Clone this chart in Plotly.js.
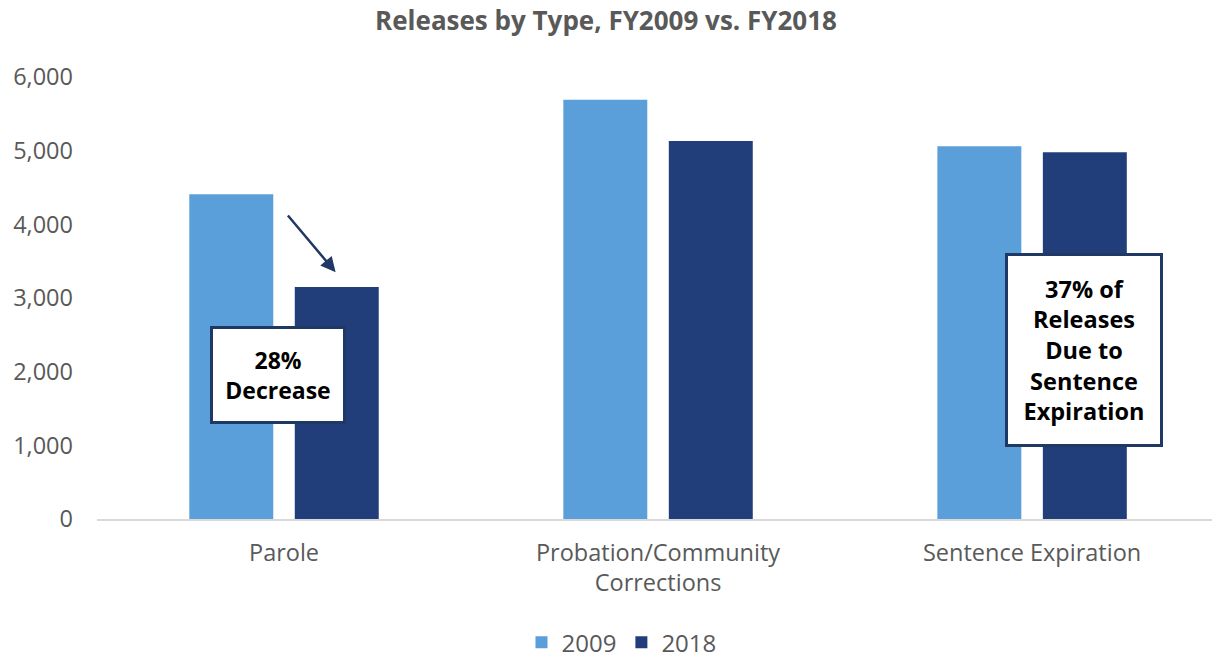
<!DOCTYPE html>
<html>
<head>
<meta charset="utf-8">
<script src="https://cdn.plot.ly/plotly-3.0.1.min.js"></script>
<style>
  html, body { margin: 0; padding: 0; background: #ffffff; }
  #chart { width: 1212px; height: 658px; }
</style>
</head>
<body>
<div id="chart"></div>
<script>
// Release categories and counts per fiscal year
const categories = ["Parole", "Probation/Community<br>Corrections", "Sentence Expiration"];
const releases2009 = [4410, 5690, 5060];
const releases2018 = [3150, 5130, 4980];
const seriesNames = ["2009", "2018"];
const yTicks = [0, 1000, 2000, 3000, 4000, 5000, 6000];
const yTickLabels = ["0", "1,000", "2,000", "3,000", "4,000", "5,000", "6,000"];

const lightBlue = "#5B9FDA";
const darkBlue = "#223E7A";
const gray = "#595959";
const font = "'Open Sans', 'DejaVu Sans', sans-serif";

const traces = [
  { type: "bar", name: seriesNames[0], x: categories, y: releases2009,
    marker: { color: lightBlue }, hoverinfo: "x+y" },
  { type: "bar", name: seriesNames[1], x: categories, y: releases2018,
    marker: { color: darkBlue }, hoverinfo: "x+y" }
];

const layout = {
  width: 1212,
  height: 658,
  paper_bgcolor: "#ffffff",
  plot_bgcolor: "#ffffff",
  margin: { l: 97, r: 0, t: 77, b: 139, autoexpand: false },
  barmode: "group",
  bargap: 0.436,
  bargroupgap: 0.204,
  font: { family: font, color: gray, size: 23 },
  title: {
    text: "<b>Releases by Type, FY2009 vs. FY2018</b>",
    font: { family: font, size: 26, color: gray },
    x: 0.5, xanchor: "center", y: 0.968, yanchor: "middle"
  },
  xaxis: {
    type: "category",
    range: [-0.5, 2.481],
    automargin: false,
    showgrid: false,
    zeroline: false,
    showline: true,
    linecolor: "#d9d9d9",
    linewidth: 1.5,
    ticks: "",
    tickfont: { family: font, size: 23.5, color: gray },
    ticklabelstandoff: 12
  },
  yaxis: {
    range: [0, 6000],
    automargin: false,
    tickvals: yTicks,
    ticktext: yTickLabels,
    showgrid: false,
    zeroline: false,
    showline: false,
    ticks: "",
    tickfont: { family: font, size: 23.5, color: gray },
    ticklabelstandoff: 23
  },
  showlegend: true,
  legend: {
    orientation: "h",
    x: 0.4704, xanchor: "center",
    y: -0.28, yanchor: "middle",
    font: { family: font, size: 24, color: gray },
    itemwidth: 30,
    traceorder: "normal"
  },
  annotations: [
    // arrow from the 2009 parole bar toward the 2018 bar
    {
      x: 0.138, y: 3350, xref: "x", yref: "y",
      ax: 0.007, ay: 4140, axref: "x", ayref: "y",
      text: "", showarrow: true,
      arrowhead: 2, arrowsize: 1.2, arrowwidth: 2.5, arrowcolor: "#203864"
    },
    {
      x: -0.015, y: 1950, xref: "x", yref: "y",
      text: "<b>28%<br>Decrease</b>",
      showarrow: false,
      font: { family: font, size: 23, color: "#000000" },
      bgcolor: "#ffffff",
      bordercolor: "#203864",
      borderwidth: 3,
      borderpad: 0,
      width: 130,
      height: 92,
      align: "center"
    },
    {
      x: 2.139, y: 2290, xref: "x", yref: "y",
      text: "<b>37% of<br>Releases<br>Due to<br>Sentence<br>Expiration</b>",
      showarrow: false,
      font: { family: font, size: 23.5, color: "#000000" },
      bgcolor: "#ffffff",
      bordercolor: "#203864",
      borderwidth: 3,
      borderpad: 0,
      width: 152,
      height: 188,
      align: "center"
    }
  ]
};

Plotly.newPlot("chart", traces, layout, { displayModeBar: false, staticPlot: true });
</script>
</body>
</html>
